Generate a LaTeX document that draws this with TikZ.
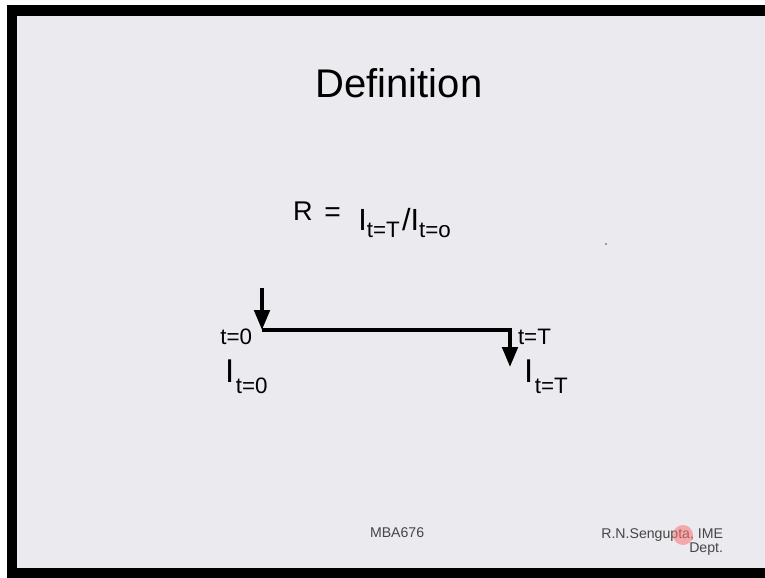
\documentclass[tikz,border=0pt]{standalone}
\usepackage{fontspec}
\setmainfont{Liberation Sans}
\usetikzlibrary{arrows.meta}
\definecolor{slidebg}{RGB}{234,234,239}
\definecolor{footgray}{RGB}{70,70,70}

% amount I with a lowered subscript
\newcommand{\amt}[1]{I\raisebox{-9.4pt}{\fontsize{19}{19}\selectfont\hspace{1.5pt}#1}}

\begin{document}
\begin{tikzpicture}[
    x=0.85pt, y=-0.85pt,
    every node/.style={inner sep=0pt, outer sep=0pt},
    titletext/.style={font=\fontsize{34}{34}\selectfont},
    ratiotext/.style={font=\fontsize{23}{23}\selectfont},
    timelbl/.style={font=\fontsize{19}{19}\selectfont},
    amountlbl/.style={font=\fontsize{28}{28}\selectfont},
    footer/.style={font=\fontsize{12}{12}\selectfont, text=footgray},
    flow/.style={line width=3.4pt, -{Triangle[length=17pt,width=13pt]}}
]
\useasboundingbox (0,0) rectangle (765,578);

% slide frame
\fill[white] (0,0) rectangle (765,578);
\fill[black] (7,5) rectangle (765,578);
\fill[slidebg] (17,16) rectangle (765,568);

\node[titletext, anchor=base] (title) at (399,97) {Definition};

\node[ratiotext, anchor=base west] (ratio) at (293,220)
{R\hspace{10pt}\raisebox{-1pt}{\fontsize{24}{24}\selectfont =}\hspace{15pt}%
\raisebox{-8.5pt}{\fontsize{26}{26}\selectfont I}%
\raisebox{-15pt}{\fontsize{19}{19}\selectfont t=T}\hspace{2pt}%
\raisebox{-8.5pt}{\fontsize{26}{26}\selectfont /I}%
\raisebox{-15pt}{\fontsize{19}{19}\selectfont t=o}};

% time line
\coordinate (top) at (262,288);
\coordinate (start) at (262,330);
\coordinate (end) at (510,367);

\draw[flow] (top) -- (start);
\draw[flow] (start) -| (end);

\node[timelbl, anchor=base east] (tzero) at (252,344) {t=0};
\node[timelbl, anchor=base west] (tend) at (518,344) {t=T};

\node[amountlbl, anchor=base west] (izero) at (225,382) {\amt{t=0}};
\node[amountlbl, anchor=base west] (iend) at (524,382) {\amt{t=T}};

% footer
\node[footer, anchor=base west] (course) at (370,537) {MBA676};
\node[footer, anchor=base east] (author) at (723,538) {R.N.Sengupta, IME};
\node[footer, anchor=base east] (dept) at (723,552) {Dept.};

% pointer mark and speck
\fill[red!55!white, opacity=0.55] (683,535) circle (8.5pt);
\fill[gray] (606,244) circle (1pt);

\end{tikzpicture}
\end{document}
